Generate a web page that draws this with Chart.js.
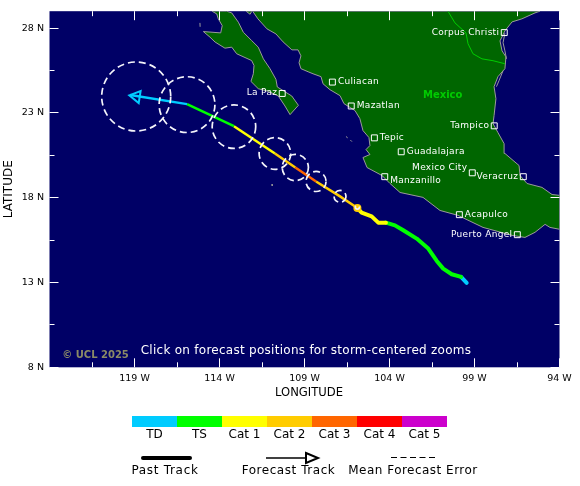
<!DOCTYPE html>
<html><head><meta charset="utf-8">
<style>html,body{margin:0;padding:0;background:#fff}canvas{display:block}</style>
<script src="https://cdn.jsdelivr.net/npm/chart.js@4"></script></head>
<body><canvas id="c" width="580" height="486"></canvas>
<script>
const xMajorValues=[-119,-114,-109,-104,-99,-94];
const xMajorLabels=['119 W','114 W','109 W','104 W','99 W','94 W'];
const xMinorValues=[-121.5,-116.5,-111.5,-106.5,-101.5,-96.5];
const yMajorValues=[28,23,18,13,8];
const yMajorLabels=['28 N','23 N','18 N','13 N','8 N'];
const yMinorValues=[25.5,20.5,15.5,10.5];

const mainlandLon=[-112.05,-111.74,-111.21,-110.68,-110.26,-109.74,-109.38,-109.21,-109.32,-109.21,-108.79,-108.5,-108.03,-107.91,-107.5,-106.91,-106.68,-106.03,-105.74,-105.56,-105.21,-105.15,-105.38,-105.15,-105.56,-105.32,-104.44,-103.97,-103.38,-102.03,-101.03,-99.97,-98.5,-96.79,-96.03,-95.44,-94.85,-94.56,-94,-94,-94.44,-95.03,-95.91,-96.32,-96.38,-97.21,-97.26,-97.62,-97.91,-97.85,-97.74,-97.85,-97.62,-97.21,-97.15,-97.38,-97.5,-97.21,-96.79,-96.21,-95.44,-95.15,-112.05];
const mainlandLat=[29,28.55,27.96,27.66,27.19,26.72,26.72,26.37,25.96,25.61,25.43,25.31,25.14,24.72,24.37,24.02,23.55,23.14,22.66,21.96,21.55,21.08,20.84,20.55,20.37,19.78,19.31,18.84,18.31,18.02,17.25,16.96,16.25,15.78,15.66,15.96,16.43,16.25,16.14,18.14,18.19,18.61,18.84,19.31,19.9,20.61,21.19,21.84,22.37,22.84,23.84,24.55,25.14,25.61,26.31,26.66,27.25,27.84,28.37,28.55,28.9,29,29];
const bajaLon=[-114.44,-114.16,-114.07,-113.84,-113.93,-114.95,-114.56,-114.26,-113.68,-113.28,-112.99,-112.11,-111.97,-112.01,-112.15,-111.72,-111.13,-110.54,-110.15,-109.85,-109.36,-109.75,-110.6,-110.68,-111.03,-111.42,-111.72,-112.11,-112.6,-112.89,-113.28,-113.58,-114.44];
const bajaLat=[29,28.84,28.55,28.15,27.72,27.8,27.47,27.18,26.82,26.88,26.49,26.09,25.8,25.31,24.86,24.43,24.27,24,23.41,22.9,23.45,24,24.53,24.98,25.61,26.19,26.88,27.27,27.76,28.35,28.9,29,29];
const smallIslandLon=[-112.44,-112.2,-112.1,-112.44];
const smallIslandLat=[29,28.82,29,29];
const rockLon=[-115.15,-115.14,null,-110.91,-110.9,null,-106.56,-106.46,null,-106.3,-106.21,null,-97.21,-97.32,-97.21,-97.12,null,-97.32,-97.56,-97.71];
const rockLat=[28.31,28.08,null,18.8,18.7,null,21.61,21.53,null,21.4,21.31,null,27.72,27.14,26.66,26.19,null,25.49,24.9,24.55];
const borderLon=[-100.56,-100.15,-99.5,-99.38,-99.09,-98.56,-97.91,-97.21];
const borderLat=[29,28.31,27.72,27.08,26.49,26.19,26.08,25.9];

const pastLon=[-99.46,-99.79,-100.34,-100.84,-101.22,-101.72,-102.4,-103.19,-103.68,-104.21,-104.66,-105.05,-105.64,-105.89];
const pastLat=[12.98,13.33,13.49,13.82,14.27,15,15.59,16.08,16.37,16.53,16.53,16.9,17.12,17.39];
const pastCategory=[0,1,1,1,1,1,1,1,1,2,2,2,2];
const forecastLon=[-105.89,-106.91,-108.32,-109.54,-110.74,-113.15,-115.91,-119.25];
const forecastLat=[17.39,18.08,18.96,19.78,20.61,22.22,23.52,24.06];
const forecastCategory=[3,3,4,3,2,1,0];
const errorLon=[-105.89,-106.91,-108.32,-109.54,-110.74,-113.15,-115.91,-118.9];
const errorLat=[17.45,18.08,18.96,19.78,20.61,22.19,23.49,23.97];
const errorDeg=[0.12,0.35,0.59,0.77,0.93,1.28,1.64,2.03];

const cityNames=['Corpus Christi','Culiacan','Mazatlan','Tepic','Guadalajara','Tampico','Manzanillo','Mexico City','Veracruz','La Paz','Acapulco','Puerto Angel'];
const cityLon=[-97.25,-107.36,-106.25,-104.89,-103.31,-97.84,-104.28,-99.13,-96.13,-110.31,-99.89,-96.48];
const cityLat=[27.74,24.82,23.41,21.53,20.71,22.24,19.24,19.47,19.24,24.15,17,15.82];
const citySide=['L','R','R','R','R','L','R','L','L','L','R','L'];
const cityDy=[0,0,0,0,0,0,4,-5,0,-1,0,0];

const categoryNames=['TD','TS','Cat 1','Cat 2','Cat 3','Cat 4','Cat 5'];
const categoryColors=['#00ccff','#00ff00','#ffff00','#ffcc00','#ff6600','#ff0000','#cc00cc'];
const countryName='Mexico', countryLon=-100.87, countryLat=24.05;

const zip=(a,b)=>a.map((v,i)=>({x:v,y:b[i]}));
const NAVY='#000066',LAND='#006600',COAST='#9a9a9a';
const FONT='"DejaVu Sans"';

function text(ctx,s,x,y,font,color,align,spacing){
  ctx.font=font;ctx.fillStyle=color;ctx.textAlign=align||'center';ctx.textBaseline='middle';
  ctx.letterSpacing=(spacing||0)+'px';ctx.fillText(s,x,y);ctx.letterSpacing='0px';
}
const mapPlugin={
  id:'mapFrame',
  beforeDraw(chart){
    const a=chart.chartArea,ctx=chart.ctx;
    ctx.save();ctx.fillStyle='#fff';ctx.fillRect(0,0,chart.width,chart.height);
    ctx.fillStyle=NAVY;ctx.fillRect(a.left,a.top,a.width,a.height);ctx.restore();
  },
  beforeDatasetDraw(chart,args){
    if(chart.data.datasets[args.index].label==='Mean forecast error')chart.ctx.setLineDash([7,4]);
  },
  afterDatasetDraw(chart){chart.ctx.setLineDash([]);},
  afterDatasetsDraw(chart){
    const ctx=chart.ctx,a=chart.chartArea,sx=chart.scales.x,sy=chart.scales.y;
    ctx.save();ctx.strokeStyle='#fff';ctx.lineWidth=1;ctx.beginPath();
    const vt=(v,l)=>{const p=Math.round(sx.getPixelForValue(v)-.5)+.5;
      ctx.moveTo(p,a.top);ctx.lineTo(p,a.top+l);ctx.moveTo(p,a.bottom);ctx.lineTo(p,a.bottom-l);};
    const ht=(v,l)=>{const p=Math.round(sy.getPixelForValue(v)-.5)+.5;
      ctx.moveTo(a.left,p);ctx.lineTo(a.left+l,p);ctx.moveTo(a.right,p);ctx.lineTo(a.right-l,p);};
    xMajorValues.forEach(v=>vt(v,9));xMinorValues.forEach(v=>vt(v,5));
    yMajorValues.forEach(v=>ht(v,9));yMinorValues.forEach(v=>ht(v,5));
    ctx.stroke();
    cityNames.forEach((n,i)=>{
      const px=sx.getPixelForValue(cityLon[i]),py=sy.getPixelForValue(cityLat[i])+cityDy[i];
      const L=citySide[i]==='L';
      text(ctx,n,px+(L?-5:5.5),py,'9px '+FONT,'#fff',L?'right':'left',0.3);
    });
    text(ctx,countryName,sx.getPixelForValue(countryLon),sy.getPixelForValue(countryLat),'bold 10px '+FONT,'#00cc00','center');
    text(ctx,'Click on forecast positions for storm-centered zooms',306,351,'12px '+FONT,'#fff','center',0.27);
    text(ctx,'© UCL 2025',95.5,355,'bold 10px '+FONT,'#8a8a66','center');
    ctx.restore();
  },
  afterDraw(chart){
    const ctx=chart.ctx;ctx.save();
    text(ctx,'LONGITUDE',309,393,'11.6px '+FONT,'#000','center');
    categoryNames.forEach((n,i)=>{
      ctx.fillStyle=categoryColors[i];ctx.fillRect(132+45*i,416,45,11);
      text(ctx,n,154.5+45*i,434.5,'12px '+FONT,'#000','center');
    });
    ctx.strokeStyle='#000';ctx.lineCap='round';ctx.lineWidth=4;ctx.beginPath();ctx.moveTo(143,458);ctx.lineTo(190,458);ctx.stroke();
    ctx.lineCap='butt';ctx.lineWidth=1.5;ctx.beginPath();ctx.moveTo(266,458);ctx.lineTo(306,458);ctx.stroke();
    ctx.lineWidth=2;ctx.beginPath();ctx.moveTo(306,453);ctx.lineTo(318,458);ctx.lineTo(306,463);ctx.closePath();ctx.stroke();
    ctx.lineWidth=1;ctx.setLineDash([6,3.5]);ctx.beginPath();ctx.moveTo(391,457.5);ctx.lineTo(437,457.5);ctx.stroke();ctx.setLineDash([]);
    text(ctx,'Past Track',165,470.5,'12px '+FONT,'#000','center',0.7);
    text(ctx,'Forecast Track',288.5,470.5,'12px '+FONT,'#000','center',0.55);
    text(ctx,'Mean Forecast Error',413,470.5,'12px '+FONT,'#000','center',0.48);
    ctx.restore();
  }
};
const polygon=(label,lon,lat)=>({label,data:zip(lon,lat),showLine:true,fill:'shape',backgroundColor:LAND,borderColor:COAST,borderWidth:1,pointRadius:0});
new Chart(document.getElementById('c'),{
  type:'scatter',
  data:{datasets:[
    {label:'Cities',data:zip(cityLon,cityLat),pointStyle:'rect',pointRadius:4.2,pointBorderColor:'#fff',pointBackgroundColor:'transparent',pointBorderWidth:1},
    {label:'Forecast arrow',data:[{x:errorLon[7],y:errorLat[7]}],pointStyle:'triangle',pointRadius:7,pointRotation:-81,pointBorderColor:categoryColors[0],pointBackgroundColor:'transparent',pointBorderWidth:2},
    {label:'Mean forecast error',data:zip(errorLon,errorLat),pointStyle:'circle',pointRadius:c=>errorDeg[c.dataIndex]*17,pointBorderColor:'#f4f4fa',pointBackgroundColor:'transparent',pointBorderWidth:1.7},
    {label:'Current position',data:[{x:pastLon[13],y:pastLat[13]}],pointRadius:4,pointBackgroundColor:categoryColors[3],pointBorderWidth:0},
    {label:'Forecast track',data:zip(forecastLon,forecastLat),showLine:true,borderWidth:2.5,pointRadius:0,borderColor:categoryColors[3],segment:{borderColor:c=>categoryColors[forecastCategory[c.p0DataIndex]]}},
    {label:'Past track',data:zip(pastLon,pastLat),showLine:true,borderWidth:4,pointRadius:0,borderCapStyle:'round',borderJoinStyle:'round',borderColor:categoryColors[1],segment:{borderColor:c=>categoryColors[pastCategory[c.p0DataIndex]]}},
    {label:'US-Mexico border',data:zip(borderLon,borderLat),showLine:true,borderWidth:1,borderColor:'#00cc00',pointRadius:0},
    {label:'Rocks',data:zip(rockLon,rockLat),showLine:true,borderWidth:1,borderColor:COAST,pointRadius:0},
    polygon('Islet',smallIslandLon,smallIslandLat),
    polygon('Baja California',bajaLon,bajaLat),
    polygon('Mainland',mainlandLon,mainlandLat)
  ]},
  options:{
    responsive:false,animation:false,devicePixelRatio:1,
    layout:{autoPadding:false,padding:{top:10.3,right:20.5,left:0,bottom:0}},
    plugins:{legend:{display:false},tooltip:{enabled:false},title:{display:false}},
    scales:{
      x:{type:'linear',min:-124,max:-94,
        afterFit:s=>{s.height=118.7;},
        afterBuildTicks:s=>{s.ticks=xMajorValues.map(v=>({value:v}));},
        grid:{display:false,drawTicks:false},border:{display:false},
        ticks:{autoSkip:false,maxRotation:0,minRotation:0,padding:6,color:'#000',font:{family:FONT,size:9.5},
          callback:v=>xMajorLabels[xMajorValues.indexOf(v)]}},
      y:{type:'linear',min:8,max:29,
        afterFit:s=>{s.width=49.5;},
        afterBuildTicks:s=>{s.ticks=yMajorValues.map(v=>({value:v}));},
        grid:{display:false,drawTicks:false},border:{display:false},
        title:{display:true,text:'LATITUDE',color:'#000',font:{family:FONT,size:12},padding:{top:2,bottom:0}},
        ticks:{autoSkip:false,padding:5.5,color:'#000',font:{family:FONT,size:9.5},
          callback:v=>yMajorLabels[yMajorValues.indexOf(v)]}}
    }
  },
  plugins:[mapPlugin]
});
</script></body></html>
